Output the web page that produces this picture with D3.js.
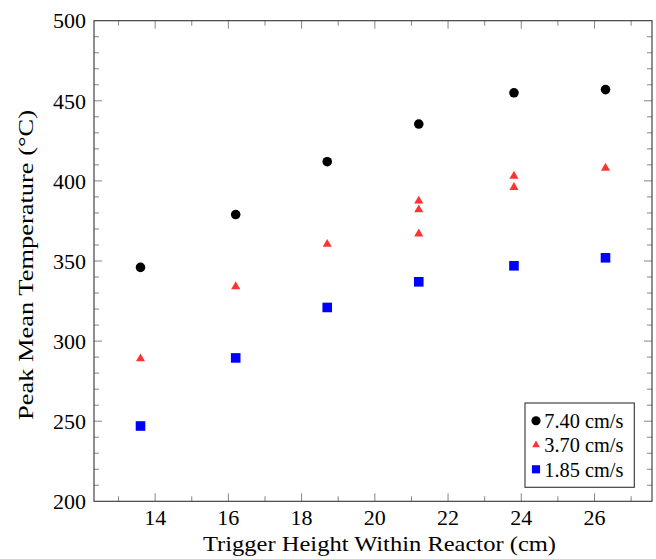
<!DOCTYPE html>
<html>
<head>
<meta charset="utf-8">
<script src="https://cdn.jsdelivr.net/npm/d3@7"></script>
<style>
  body { margin: 0; background: #fff; }
  text { font-family: "Liberation Serif", "DejaVu Serif", serif; fill: #000; }
</style>
</head>
<body>
<svg id="chart" width="656" height="559"></svg>
<script>
// trigger heights (cm) and peak mean temperatures (°C) per flow velocity
const heights = [13.6, 16.2, 18.7, 21.2, 23.8, 26.3];
const temp740 = [346, 379, 412, 435.5, 455, 457];
const heights370 = [13.6, 16.2, 18.7, 21.2, 21.2, 21.2, 23.8, 23.8, 26.3];
const temp370 = [289, 334, 360.5, 387.5, 382, 367, 403, 396, 408];
const temp185 = [247, 289.5, 321, 337, 347, 352];

const xTicks = [14, 16, 18, 20, 22, 24, 26];
const yTicks = [200, 250, 300, 350, 400, 450, 500];
const legendLabels = ["7.40 cm/s", "3.70 cm/s", "1.85 cm/s"];

const svg = d3.select("#chart");

const plot = { left: 94, right: 652, top: 20.7, bottom: 501.3 };

// pgfplots-like enlarged limits (10% of data range on each side)
const x = d3.scaleLinear().domain([12.33, 27.57]).range([plot.left, plot.right]);
const y = d3.scaleLinear().domain([200, 500]).range([plot.bottom, plot.top]);

const tickColor = "#666";
const majorLen = 8, minorLen = 5;

const xMinor = d3.range(13, 28, 1).filter(d => d % 2 !== 0);
const yMinor = d3.range(210, 500, 10).filter(d => d % 50 !== 0);

const ticks = svg.append("g").attr("stroke", tickColor).attr("stroke-width", 0.8);

// bottom + top ticks, pointing inward
function xTick(v, len) {
  ticks.append("line").attr("x1", x(v)).attr("x2", x(v))
    .attr("y1", plot.bottom).attr("y2", plot.bottom - len);
  ticks.append("line").attr("x1", x(v)).attr("x2", x(v))
    .attr("y1", plot.top).attr("y2", plot.top + len);
}
function yTick(v, len) {
  ticks.append("line").attr("y1", y(v)).attr("y2", y(v))
    .attr("x1", plot.left).attr("x2", plot.left + len);
  ticks.append("line").attr("y1", y(v)).attr("y2", y(v))
    .attr("x1", plot.right).attr("x2", plot.right - len);
}
xTicks.forEach(v => xTick(v, majorLen));
xMinor.forEach(v => xTick(v, minorLen));
yTicks.filter(v => v > 200 && v < 500).forEach(v => yTick(v, majorLen));
yMinor.forEach(v => yTick(v, minorLen));

// frame
svg.append("rect")
  .attr("x", plot.left).attr("y", plot.top)
  .attr("width", plot.right - plot.left).attr("height", plot.bottom - plot.top)
  .attr("fill", "none").attr("stroke", "#333").attr("stroke-width", 1.1);

// tick labels
svg.append("g").selectAll("text").data(xTicks).join("text")
  .attr("x", d => x(d)).attr("y", 525)
  .attr("text-anchor", "middle").attr("font-size", 22)
  .text(d => d);

svg.append("g").selectAll("text").data(yTicks).join("text")
  .attr("x", 86).attr("y", d => y(d)).attr("dy", "0.35em")
  .attr("text-anchor", "end").attr("font-size", 22)
  .text(d => d);

// axis titles (stretched to the Computer Modern widths of the original)
svg.append("text")
  .attr("x", 379.5).attr("y", 551)
  .attr("text-anchor", "middle").attr("font-size", 22)
  .attr("textLength", 353).attr("lengthAdjust", "spacingAndGlyphs")
  .text("Trigger Height Within Reactor (cm)");

svg.append("text")
  .attr("transform", "translate(33,265) rotate(-90)")
  .attr("text-anchor", "middle").attr("font-size", 22)
  .attr("textLength", 310).attr("lengthAdjust", "spacingAndGlyphs")
  .text("Peak Mean Temperature (°C)");

// markers
const sym = {
  circle: d3.symbol().type(d3.symbolCircle).size(Math.PI * 4.8 * 4.8),
  triangle: d3.symbol().type(d3.symbolTriangle).size(36),
  square: d3.symbol().type(d3.symbolSquare).size(9.6 * 9.6),
};
const styles = [
  { path: sym.circle(), fill: "#000" },
  { path: sym.triangle(), fill: "#ff3333" },
  { path: sym.square(), fill: "#0000ff" },
];

const series = [
  heights.map((h, i) => [h, temp740[i]]),
  heights370.map((h, i) => [h, temp370[i]]),
  heights.map((h, i) => [h, temp185[i]]),
];

series.forEach((pts, s) => {
  svg.append("g").selectAll("path").data(pts).join("path")
    .attr("d", styles[s].path)
    .attr("fill", styles[s].fill)
    .attr("transform", d => `translate(${x(d[0])},${y(d[1])})`);
});

// legend
const legend = svg.append("g");
legend.append("rect")
  .attr("x", 525).attr("y", 403).attr("width", 109.3).attr("height", 84.3)
  .attr("fill", "#fff").attr("stroke", "#333").attr("stroke-width", 1.1);

legendLabels.forEach((lab, i) => {
  const ly = 420.7 + i * 24.3;
  legend.append("path").attr("d", styles[i].path)
    .attr("fill", styles[i].fill)
    .attr("transform", `translate(536,${ly}) scale(${i === 0 ? 0.95 : 0.85})`);
  legend.append("text")
    .attr("x", 544.3).attr("y", ly).attr("dy", "0.35em")
    .attr("font-size", 21)
    .attr("textLength", 79).attr("lengthAdjust", "spacingAndGlyphs")
    .text(lab);
});
</script>
</body>
</html>
